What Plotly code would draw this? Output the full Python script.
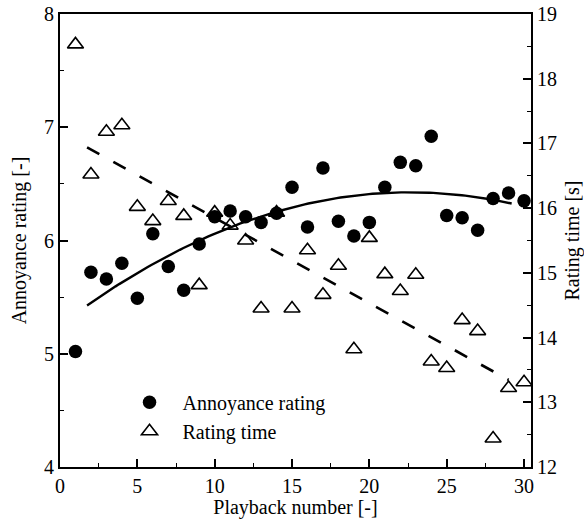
import numpy as np
import plotly.graph_objects as go

playback = list(range(1, 31))
annoyance = [5.02, 5.72, 5.66, 5.80, 5.49, 6.06, 5.77, 5.56, 5.97, 6.21,
             6.26, 6.21, 6.16, 6.24, 6.47, 6.12, 6.64, 6.17, 6.04, 6.16,
             6.47, 6.69, 6.66, 6.92, 6.22, 6.20, 6.09, 6.37, 6.42, 6.35]
rating_time = [18.53, 16.52, 17.18, 17.28, 16.02, 15.80, 16.11, 15.88, 14.81, 15.93,
               15.73, 15.50, 14.45, 15.93, 14.45, 15.35, 14.66, 15.11, 13.82, 15.54,
               14.98, 14.72, 14.97, 13.63, 13.53, 14.27, 14.10, 12.44, 13.22, 13.31]
x_ticks = [0, 5, 10, 15, 20, 25, 30]
y_ticks = [4, 5, 6, 7, 8]
y2_ticks = [12, 13, 14, 15, 16, 17, 18, 19]

FONT = "Liberation Serif"
FS = 20

# fitted trends
qc = np.polyfit(playback, annoyance, 2)
lc = np.polyfit(playback, rating_time, 1)
xq = np.linspace(1.75, 29.2, 120)
xl = np.array([1.75, 29.0])

fig = go.Figure()
fig.add_trace(go.Scatter(
    x=playback, y=rating_time, mode="markers", name="Rating time", yaxis="y2",
    marker=dict(symbol="triangle-up-open", size=14, color="black",
                line=dict(width=1.6, color="black"))))
fig.add_trace(go.Scatter(
    x=xl, y=np.polyval(lc, xl), mode="lines", yaxis="y2", showlegend=False,
    line=dict(color="black", width=2.6, dash="14px,16px")))
fig.add_trace(go.Scatter(
    x=playback, y=annoyance, mode="markers", name="Annoyance rating",
    marker=dict(symbol="circle", size=13.5, color="black", line=dict(width=0))))
fig.add_trace(go.Scatter(
    x=xq, y=np.polyval(qc, xq), mode="lines", showlegend=False,
    line=dict(color="black", width=2.4)))

axis_common = dict(
    showline=True, linewidth=2, linecolor="black", showgrid=False, zeroline=False,
    ticks="inside", ticklen=8, tickwidth=1.5, tickcolor="black", automargin=False,
    tickfont=dict(family=FONT, size=FS, color="black"),
)

fig.update_layout(
    width=584, height=519,
    margin=dict(l=60, r=53, t=14, b=52),
    paper_bgcolor="white", plot_bgcolor="white",
    font=dict(family=FONT, size=FS, color="black"),
    xaxis=dict(range=[0, 30.45], tickvals=x_ticks, mirror=True,
               minor=dict(ticks="inside", ticklen=4, tickwidth=1.2, tickcolor="black", dtick=2.5, tick0=0),
               title=dict(text="Playback number [-]", font=dict(family=FONT, size=FS), standoff=1),
               **axis_common),
    yaxis=dict(range=[4, 8], tickvals=y_ticks,
               minor=dict(ticks="inside", ticklen=4, tickwidth=1.2, tickcolor="black", dtick=0.5, tick0=4),
               title=dict(text="Annoyance rating [-]", font=dict(family=FONT, size=FS), standoff=12),
               **axis_common),
    yaxis2=dict(range=[12, 19], tickvals=y2_ticks, overlaying="y", side="right",
                minor=dict(ticks="inside", ticklen=4, tickwidth=1.2, tickcolor="black", dtick=0.5, tick0=12),
                title=dict(text="Rating time [s]", font=dict(family=FONT, size=FS), standoff=9),
                **axis_common),
    legend=dict(x=0.12, y=0.186, xanchor="left", yanchor="top", bgcolor="rgba(0,0,0,0)",
                itemwidth=56, font=dict(family=FONT, size=FS), traceorder="reversed",
                tracegroupgap=0),
    showlegend=True,
)

fig.write_html("out.html")
